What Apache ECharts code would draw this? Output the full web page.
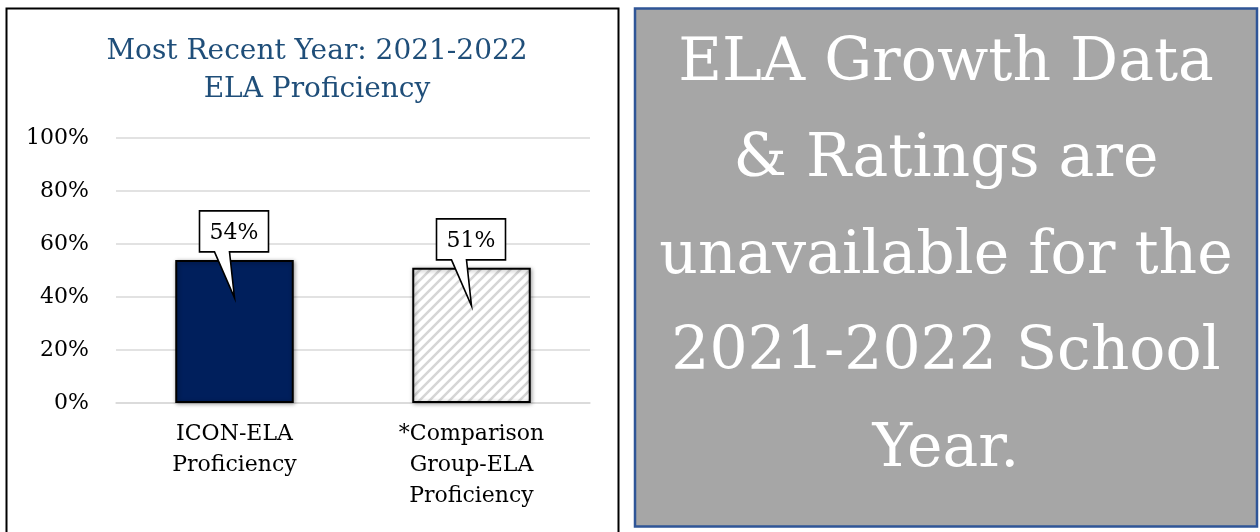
<!DOCTYPE html>
<html>
<head>
<meta charset="utf-8">
<script src="https://cdn.jsdelivr.net/npm/echarts@6/dist/echarts.min.js"></script>
<style>
html,body{margin:0;padding:0;background:#fff;}
#chart{width:1260px;height:532px;}
</style>
</head>
<body>
<div id="chart"></div>
<script>
const categories = ['ICON-ELA\nProficiency', '*Comparison\nGroup-ELA\nProficiency'];
const values = [54, 51];
const valueLabels = ['54%', '51%'];
const yTicks = [0, 20, 40, 60, 80, 100];
const titleLines = ['Most Recent Year: 2021-2022', 'ELA Proficiency'];
const noteLines = ['ELA Growth Data', '& Ratings are', 'unavailable for the', '2021-2022 School', 'Year.'];

const FONT = '"DejaVu Serif", serif';

function hatchPattern() {
  const c = document.createElement('canvas');
  c.width = 10; c.height = 10;
  const g = c.getContext('2d');
  g.fillStyle = '#ffffff';
  g.fillRect(0, 0, 10, 10);
  g.strokeStyle = '#d6d6d6';
  g.lineWidth = 2.6;
  g.beginPath();
  g.moveTo(-2, 12); g.lineTo(12, -2);
  g.moveTo(-7, 7); g.lineTo(7, -7);
  g.moveTo(3, 17); g.lineTo(17, 3);
  g.stroke();
  return c;
}

const chart = echarts.init(document.getElementById('chart'), null, {renderer: 'canvas'});

const noteGraphics = noteLines.map((t, i) => ({
  type: 'text',
  x: 946,
  y: 64 + i * 96.5,
  z: 10,
  style: {
    text: t,
    fill: '#ffffff',
    font: '60px ' + FONT,
    align: 'center',
    verticalAlign: 'middle'
  }
}));

const option = {
  animation: false,
  backgroundColor: '#ffffff',
  title: {
    text: titleLines.join('\n'),
    left: 312,
    top: 28,
    textAlign: 'center',
    textStyle: {
      color: '#1F4E79',
      fontFamily: FONT,
      fontSize: 28,
      fontWeight: 'normal',
      lineHeight: 38
    }
  },
  graphic: [
    {
      type: 'rect',
      z: -10,
      shape: {x: 6.5, y: 8.5, width: 612, height: 540},
      style: {fill: '#ffffff', stroke: '#000000', lineWidth: 2}
    },
    {
      type: 'rect',
      z: -10,
      shape: {x: 635, y: 8.5, width: 622, height: 518},
      style: {fill: '#A6A6A6', stroke: '#2F5597', lineWidth: 2.5}
    }
  ].concat(noteGraphics),
  grid: {left: 116, right: 670, top: 138, bottom: 129},
  xAxis: {
    type: 'category',
    data: categories,
    axisLine: {show: true, lineStyle: {color: '#d9d9d9', width: 1.5}},
    axisTick: {show: false},
    axisLabel: {
      color: '#000',
      fontFamily: FONT,
      fontSize: 22,
      lineHeight: 31,
      margin: 16,
      interval: 0
    }
  },
  yAxis: {
    type: 'value',
    min: 0,
    max: 100,
    interval: 20,
    axisLine: {show: false},
    axisTick: {show: false},
    splitLine: {lineStyle: {color: '#d9d9d9', width: 1.5}},
    axisLabel: {
      color: '#000',
      fontFamily: FONT,
      fontSize: 22,
      margin: 27,
      formatter: v => (yTicks.indexOf(v) >= 0 ? v + '%' : '')
    }
  },
  series: [
    {
      type: 'bar',
      barWidth: '50%',
      data: [
        {value: values[0], itemStyle: {color: '#001F5C'}},
        {value: values[1], itemStyle: {color: {image: hatchPattern(), repeat: 'repeat'}}}
      ],
      itemStyle: {
        borderColor: '#000000',
        borderWidth: 2,
        shadowBlur: 4,
        shadowColor: 'rgba(0,0,0,0.35)',
        shadowOffsetX: 1,
        shadowOffsetY: 1
      },
      z: 2
    },
    {
      type: 'custom',
      z: 5,
      data: values.map((v, i) => [i, v]),
      renderItem: function (params, api) {
        const p = api.coord([api.value(0), api.value(1)]);
        const cx = p[0], top = p[1];
        return {
          type: 'group',
          children: [
            {
              type: 'polygon',
              shape: {
                points: [
                  [cx - 35, top - 49], [cx + 34, top - 49], [cx + 34, top - 8],
                  [cx - 5, top - 8], [cx, top + 38], [cx - 20, top - 8], [cx - 35, top - 8]
                ]
              },
              style: {fill: '#ffffff', stroke: '#000000', lineWidth: 1.6}
            },
            {
              type: 'text',
              x: cx - 0.5,
              y: top - 27,
              style: {
                text: valueLabels[params.dataIndex],
                fill: '#000000',
                font: '22px ' + FONT,
                align: 'center',
                verticalAlign: 'middle'
              }
            }
          ]
        };
      }
    }
  ]
};

chart.setOption(option);
</script>
</body>
</html>
